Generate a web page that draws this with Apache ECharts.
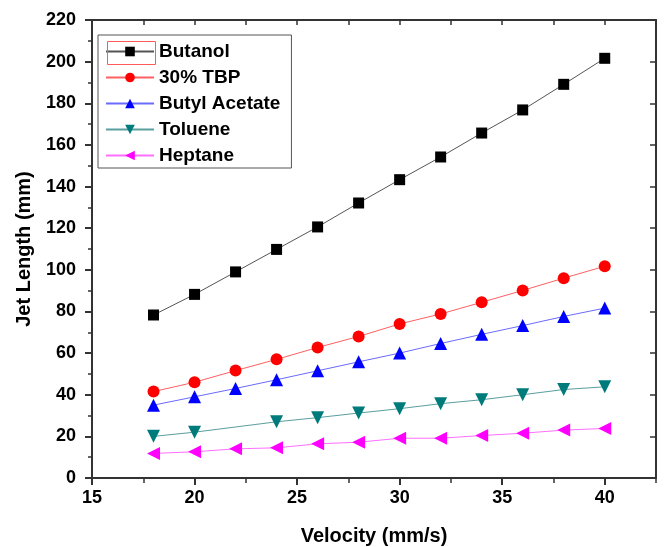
<!DOCTYPE html>
<html>
<head>
<meta charset="utf-8">
<script src="https://cdn.jsdelivr.net/npm/echarts@6/dist/echarts.min.js"></script>
<style>
html,body{margin:0;padding:0;background:#fff;}
#main{width:664px;height:547px;}
</style>
</head>
<body>
<div id="main"></div>
<script>
var velocity = [18, 20, 22, 24, 26, 28, 30, 32, 34, 36, 38, 40];
var butanol = [78.3, 88.2, 99.0, 109.8, 120.6, 132.1, 143.3, 154.2, 165.7, 176.8, 189.1, 201.6];
var tbp = [41.5, 46.0, 51.6, 57.0, 62.7, 68.0, 74.0, 78.8, 84.4, 90.1, 96.0, 101.7];
var butylAcetate = [35.0, 39.0, 43.0, 47.2, 51.5, 55.8, 60.0, 64.6, 69.0, 73.2, 77.6, 81.6];
var toluene = [20.0, 22.0, null, 27.0, 29.0, 31.2, 33.3, 35.7, 37.6, 40.0, 42.5, 43.8];
var heptane = [11.8, 12.6, 14.0, 14.5, 16.4, 17.2, 19.1, 19.1, 20.4, 21.5, 23.0, 23.8];

var xTicks = [15, 20, 25, 30, 35, 40];
var yTicks = [0, 20, 40, 60, 80, 100, 120, 140, 160, 180, 200, 220];

function pairs(ys) {
    var out = [];
    for (var i = 0; i < velocity.length; i++) {
        if (ys[i] !== null) out.push([velocity[i], ys[i]]);
    }
    return out;
}

var dom = document.getElementById("main");
var myChart = echarts.init(dom);
var option = null;

var labelFont = {
    fontFamily: 'Liberation Sans, Arial',
    fontWeight: 'bold',
    fontSize: 18,
    color: '#000'
};

function makeSeries(name, ys, symbol, rotate, markColor, lineColor, size) {
    return {
        name: name,
        type: 'line',
        xAxisIndex: 0,
        yAxisIndex: 0,
        data: pairs(ys),
        connectNulls: true,
        symbol: symbol,
        symbolRotate: rotate,
        symbolSize: size,
        showAllSymbol: true,
        itemStyle: {color: markColor},
        lineStyle: {color: lineColor, width: 1},
        animation: false
    };
}

option = {
    backgroundColor: '#fff',
    animation: false,
    grid: {left: 92, right: 8, top: 20, bottom: 69, containLabel: false, outerBoundsMode: 'none'},
    legend: {
        orient: 'vertical',
        left: 98,
        top: 35,
        padding: [7, 11, 3, 7],
        borderColor: '#555',
        borderWidth: 1,
        itemWidth: 48,
        itemHeight: 12,
        itemGap: 7,
        textStyle: {fontFamily: 'Liberation Sans, Arial', fontWeight: 'bold', fontSize: 19, color: '#000', lineHeight: 17},
        data: ['Butanol', '30% TBP', 'Butyl Acetate', 'Toluene', 'Heptane']
    },
    graphic: [{
        type: 'rect',
        left: 105,
        top: 39,
        shape: {width: 48, height: 23},
        style: {fill: 'none', stroke: '#ff5a5a', lineWidth: 1},
        z: 100
    }],
    xAxis: [{
        type: 'value',
        position: 'bottom',
        min: 15,
        max: 42.5,
        interval: 5,
        name: 'Velocity (mm/s)',
        nameLocation: 'middle',
        nameGap: 48,
        nameTextStyle: {fontFamily: 'Liberation Sans, Arial', fontWeight: 'bold', fontSize: 20, color: '#000'},
        axisLine: {show: true, onZero: false, lineStyle: {color: '#333', width: 2}},
        axisTick: {show: true, inside: false, length: 7, lineStyle: {color: '#333', width: 2}},
        axisLabel: Object.assign({margin: 11, showMaxLabel: false, formatter: function (v) {
            return xTicks.indexOf(v) >= 0 ? String(v) : '';
        }}, labelFont),
        splitLine: {show: false}
    }, {
        type: 'value',
        position: 'bottom',
        min: 15,
        max: 42.5,
        interval: 2.5,
        axisLine: {show: false},
        axisTick: {show: true, inside: false, length: 5, lineStyle: {color: '#333', width: 1.5}},
        axisLabel: {show: false},
        splitLine: {show: false}
    }, {
        type: 'value',
        position: 'top',
        min: 15,
        max: 42.5,
        interval: 2.5,
        axisLine: {show: true, onZero: false, lineStyle: {color: '#333', width: 2}},
        axisTick: {show: true, inside: true, length: 5, lineStyle: {color: '#333', width: 1.5}},
        axisLabel: {show: false},
        splitLine: {show: false}
    }],
    yAxis: [{
        type: 'value',
        position: 'left',
        min: 0,
        max: 220,
        interval: 20,
        name: 'Jet Length (mm)',
        nameLocation: 'middle',
        nameGap: 58,
        nameTextStyle: {fontFamily: 'Liberation Sans, Arial', fontWeight: 'bold', fontSize: 20, color: '#000'},
        axisLine: {show: true, onZero: false, lineStyle: {color: '#333', width: 2}},
        axisTick: {show: true, inside: false, length: 7, lineStyle: {color: '#333', width: 2}},
        minorTick: {show: true, splitNumber: 2, length: 4, lineStyle: {color: '#333', width: 1.5}},
        axisLabel: Object.assign({margin: 16, formatter: function (v) {
            return yTicks.indexOf(v) >= 0 ? String(v) : '';
        }}, labelFont),
        splitLine: {show: false}
    }, {
        type: 'value',
        position: 'right',
        min: 0,
        max: 220,
        interval: 20,
        axisLine: {show: true, onZero: false, lineStyle: {color: '#333', width: 2}},
        axisTick: {show: true, inside: true, length: 6, lineStyle: {color: '#333', width: 1.5}},
        axisLabel: {show: false},
        splitLine: {show: false}
    }],
    series: [
        makeSeries('Butanol', butanol, 'rect', 0, '#000', '#555', 11),
        makeSeries('30% TBP', tbp, 'circle', 0, '#ff0000', '#ff6060', 12),
        makeSeries('Butyl Acetate', butylAcetate, 'triangle', 0, '#0000ff', '#6a6aff', 13),
        makeSeries('Toluene', toluene, 'triangle', 180, '#007b7b', '#5a9e9e', 13),
        makeSeries('Heptane', heptane, 'triangle', 90, '#ff00ff', '#ff70ff', 13)
    ]
};

if (option && typeof option === "object") {
    myChart.setOption(option, true);
}
</script>
</body>
</html>
